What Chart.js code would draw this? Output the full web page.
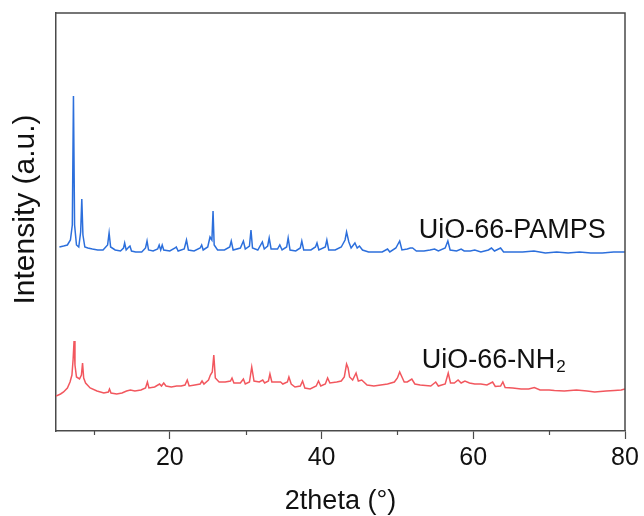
<!DOCTYPE html>
<html>
<head>
<meta charset="utf-8">
<script src="https://cdn.jsdelivr.net/npm/chart.js@4"></script>
<style>
  body { margin: 0; background: #fff; }
  canvas { display: block; }
</style>
</head>
<body>
<canvas id="xrdChart" width="644" height="516"></canvas>
<script>
// Data (2theta in degrees, intensity in arbitrary units)
const pampsTheta = [5.45, 6.0, 6.5, 6.9, 7.15, 7.3, 7.45, 7.7, 8.0, 8.25, 8.4, 8.55, 8.8, 9.2, 9.8, 10.5, 11.2, 11.8, 12.0, 12.2,
  12.8, 13.5, 13.9, 14.05, 14.25, 14.6, 14.75, 14.95, 15.5, 16.3, 16.8, 17.0, 17.2, 17.8, 18.4, 18.6, 18.8, 19.0, 19.2, 20.0,
  20.7, 20.85, 21.1, 21.9, 22.2, 22.45, 23.2, 24.0, 24.2, 24.4, 25.0, 25.3, 25.55, 25.7, 25.85, 26.3, 27.2, 27.9, 28.1, 28.35,
  29.3, 29.7, 29.95, 30.5, 30.7, 30.9, 31.6, 32.2, 32.45, 32.9, 33.1, 33.35, 34.2, 34.5, 34.8, 35.4, 35.6, 35.85, 36.6, 37.2,
  37.4, 37.65, 38.6, 39.2, 39.4, 39.65, 40.5, 40.7, 40.95, 41.8, 42.6, 43.1, 43.3, 43.6, 43.9, 44.4, 44.7, 45.0, 45.4, 46.2,
  47.2, 48.0, 48.7, 49.0, 49.8, 50.3, 50.6, 51.3, 51.7, 52.0, 52.5, 53.5, 54.3, 54.9, 55.4, 56.3, 56.65, 56.95, 57.8, 58.4,
  58.8, 59.6, 60.2, 61.0, 62.0, 62.4, 62.8, 63.6, 64.0, 65.0, 66.5, 68.0, 69.5, 71.0, 72.5, 74.0, 75.5, 77.0, 78.5, 80.0];
const pampsIntensity = [184, 185, 186, 191, 206, 335, 206, 186, 184, 199, 232, 196, 184, 183, 182, 181, 181, 186, 198, 184,
  181, 180, 183, 188, 181, 184, 185, 180, 179, 179, 183, 190, 181, 180, 182, 186, 181, 186, 181, 180,
  183, 184, 180, 182, 191, 181, 180, 183, 186, 181, 184, 194, 191, 220, 186, 181, 181, 184, 190, 181,
  183, 190, 182, 185, 201, 183, 181, 189, 182, 185, 193, 182, 182, 186, 181, 184, 193, 181, 180, 183,
  190, 181, 181, 184, 188, 181, 184, 191, 181, 181, 184, 191, 199, 189, 183, 188, 183, 185, 181, 179,
  179, 179, 182, 179, 183, 190, 181, 182, 183, 183, 180, 180, 181, 182, 180, 183, 190, 181, 180, 182,
  180, 180, 181, 179, 181, 183, 180, 183, 179, 179, 179, 180, 178, 179, 178, 179, 178, 178, 179, 179];

const nh2Theta = [5.0, 5.6, 6.0, 6.5, 6.85, 7.1, 7.25, 7.38, 7.5, 7.7, 8.1, 8.35, 8.5, 8.65, 8.9, 9.5, 10.4, 11.3, 11.9, 12.05,
  12.25, 13.0, 13.7, 14.3, 14.8, 15.4, 16.2, 16.8, 17.05, 17.25, 18.0, 18.65, 18.9, 19.2, 19.5, 20.2, 20.9, 21.5, 22.0, 22.3,
  22.55, 23.3, 24.0, 24.25, 24.5, 25.1, 25.35, 25.6, 25.8, 26.0, 26.5, 27.3, 28.0, 28.2, 28.45, 29.3, 29.7, 29.95, 30.5, 30.8,
  31.1, 31.8, 32.25, 32.5, 33.0, 33.2, 33.45, 34.2, 34.6, 34.9, 35.5, 35.7, 36.0, 36.5, 37.2, 37.5, 37.8, 38.5, 39.3, 39.6,
  39.9, 40.5, 40.8, 41.1, 42.0, 42.6, 43.0, 43.3, 43.5, 43.7, 44.1, 44.55, 44.85, 45.3, 46.0, 46.9, 47.8, 48.7, 49.6, 50.0,
  50.3, 50.6, 50.9, 51.3, 51.9, 52.3, 53.0, 54.4, 55.05, 55.4, 56.3, 56.7, 57.0, 57.5, 58.0, 58.4, 58.9, 59.5, 60.2, 61.0,
  61.8, 62.55, 62.9, 63.6, 63.9, 64.2, 65.2, 66.3, 67.3, 68.05, 68.8, 70.0, 70.7, 72.0, 73.6, 75.0, 76.0, 77.5, 78.6, 79.5, 80.0];
const nh2Intensity = [35, 37, 39, 43, 49, 56, 71, 90, 66, 54, 52, 56, 68, 53, 48, 43, 40, 38, 39, 42,
  38, 37, 38, 40, 41, 40, 41, 43, 49, 43, 44, 47, 45, 48, 45, 44, 45, 45, 46, 51,
  45, 46, 47, 50, 47, 51, 56, 59, 76, 53, 49, 49, 50, 53, 48, 48, 52, 47, 49, 64,
  50, 49, 51, 48, 50, 57, 49, 49, 49, 47, 49, 54, 47, 44, 45, 50, 43, 42, 45, 50,
  45, 47, 53, 48, 49, 50, 54, 67, 63, 54, 51, 58, 50, 51, 46, 45, 46, 47, 49, 53,
  59, 54, 49, 49, 52, 47, 46, 45, 49, 45, 47, 58, 48, 48, 51, 48, 50, 48, 47, 47,
  46, 49, 44.5, 45, 49, 43.5, 43, 42, 42, 43.5, 41, 41, 40.5, 40, 41, 40, 39, 40, 40.5, 41, 42];

const majorTicks = [20, 40, 60, 80];
const minorTicks = [10, 30, 50, 70];
const seriesNames = ['UiO-66-PAMPS', 'UiO-66-NH2'];

const FONT = '"Liberation Sans", Arial, sans-serif';
const AXIS_COLOR = '#4a4a4a';
Chart.defaults.font.family = FONT;
Chart.defaults.color = '#111';

function toPoints(xs, ys) {
    return xs.map((x, i) => ({ x: x, y: ys[i] }));
}

// Box frame, minor ticks, y title and the curve labels
const framePlugin = {
    id: 'frame',
    afterDraw(chart) {
        const { ctx, chartArea: a, scales } = chart;
        ctx.save();
        ctx.strokeStyle = AXIS_COLOR;
        ctx.lineWidth = 1.5;
        ctx.beginPath();
        ctx.moveTo(a.left, a.top);
        ctx.lineTo(a.right, a.top);
        ctx.lineTo(a.right, a.bottom);
        ctx.stroke();

        ctx.lineWidth = 1.2;
        minorTicks.forEach(v => {
            const px = Math.round(scales.x.getPixelForValue(v)) + 0.5;
            ctx.beginPath();
            ctx.moveTo(px, a.bottom);
            ctx.lineTo(px, a.bottom + 4);
            ctx.stroke();
        });

        // y axis title, sits a little above the middle like the original
        ctx.fillStyle = '#111';
        ctx.save();
        ctx.translate(26, a.top + (a.bottom - a.top) * 0.47);
        ctx.rotate(-Math.PI / 2);
        ctx.textAlign = 'center';
        ctx.textBaseline = 'middle';
        ctx.font = '30px ' + FONT;
        ctx.fillText('Intensity (a.u.)', 0, 0);
        ctx.restore();

        // curve labels
        ctx.textAlign = 'left';
        ctx.textBaseline = 'middle';
        ctx.font = '27px ' + FONT;
        let x = scales.x.getPixelForValue(52.8);
        let y = scales.y.getPixelForValue(200);
        ctx.fillText(seriesNames[0], x, y);

        x = scales.x.getPixelForValue(53.2);
        y = scales.y.getPixelForValue(70);
        const base = 'UiO-66-NH';
        ctx.fillText(base, x, y);
        const w = ctx.measureText(base).width;
        ctx.font = '17px ' + FONT;
        ctx.fillText('2', x + w + 1, y + 6);
        ctx.restore();
    }
};

const ctx = document.getElementById('xrdChart').getContext('2d');
new Chart(ctx, {
    type: 'line',
    data: {
        datasets: [{
            label: seriesNames[0],
            data: toPoints(pampsTheta, pampsIntensity),
            borderColor: '#2c6fdc',
            borderWidth: 1.5,
            pointRadius: 0,
            tension: 0
        }, {
            label: seriesNames[1],
            data: toPoints(nh2Theta, nh2Intensity),
            borderColor: '#f2575e',
            borderWidth: 1.5,
            pointRadius: 0,
            tension: 0
        }]
    },
    options: {
        responsive: false,
        animation: false,
        layout: { padding: { top: 13, right: 19, left: 0, bottom: 0 } },
        plugins: {
            legend: { display: false },
            tooltip: { enabled: false }
        },
        scales: {
            x: {
                type: 'linear',
                min: 5,
                max: 80,
                afterFit: scale => { scale.height = 85; },
                afterBuildTicks: scale => {
                    scale.ticks = [{ value: 5 }].concat(majorTicks.map(v => ({ value: v })));
                },
                ticks: {
                    autoSkip: false,
                    maxRotation: 0,
                    padding: 4,
                    color: '#111',
                    font: { size: 25 },
                    callback: v => (majorTicks.includes(v) ? v : '')
                },
                grid: {
                    drawOnChartArea: false,
                    tickLength: 8,
                    tickWidth: 1.2,
                    tickColor: c => (c.tick && majorTicks.includes(c.tick.value) ? AXIS_COLOR : 'rgba(0,0,0,0)')
                },
                border: { display: true, color: AXIS_COLOR, width: 1.5 },
                title: {
                    display: true,
                    text: '2theta (°)',
                    color: '#111',
                    font: { size: 27 },
                    padding: { top: 0, bottom: -2 }
                }
            },
            y: {
                min: 0,
                max: 418,
                afterFit: scale => { scale.width = 56; },
                ticks: { display: false },
                grid: { display: false },
                border: { display: true, color: AXIS_COLOR, width: 1.5 },
                title: { display: false }
            }
        }
    },
    plugins: [framePlugin]
});
</script>
</body>
</html>
